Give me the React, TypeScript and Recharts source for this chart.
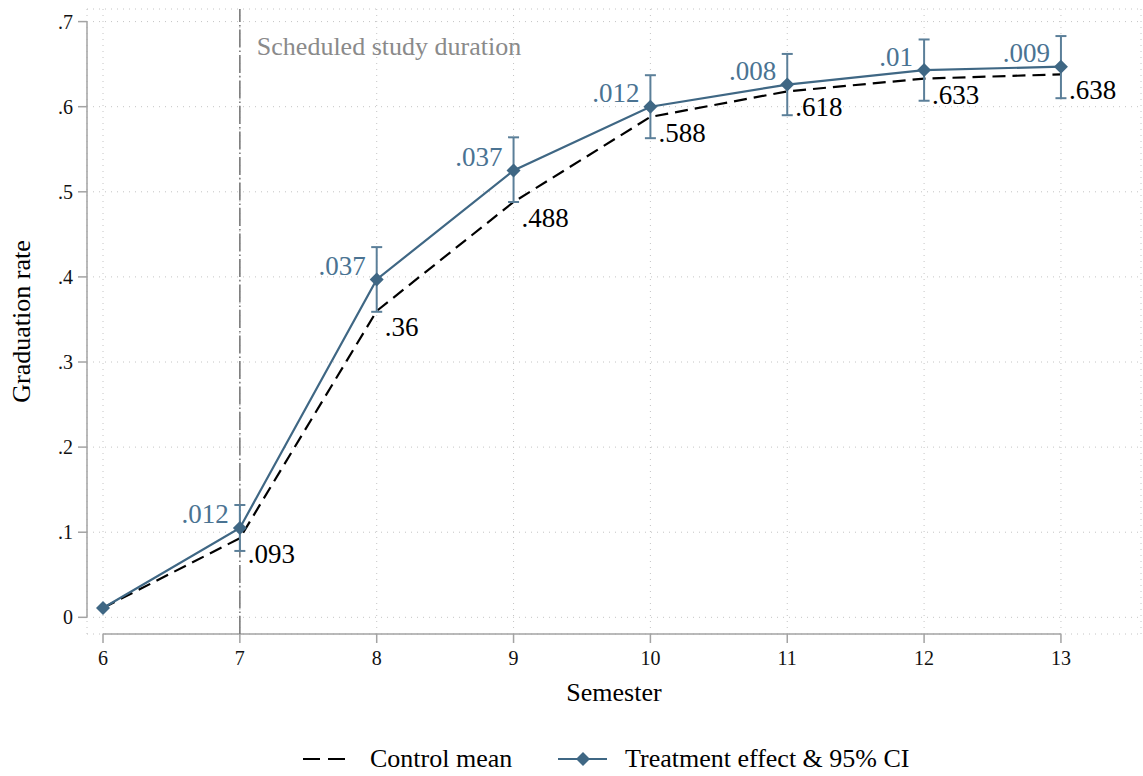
import React from 'react';
import {
  ComposedChart,
  Line,
  XAxis,
  YAxis,
  CartesianGrid,
  ReferenceLine,
  ErrorBar,
  LabelList,
  Legend,
} from 'recharts';

// ---------- data ----------
const semesters = [6, 7, 8, 9, 10, 11, 12, 13];
const controlMean = [0.011, 0.093, 0.36, 0.488, 0.588, 0.618, 0.633, 0.638];
const treatmentRate = [0.011, 0.105, 0.397, 0.525, 0.6, 0.626, 0.643, 0.647];
const ciLower = [null, 0.078, 0.359, 0.488, 0.563, 0.59, 0.607, 0.61];
const ciUpper = [null, 0.132, 0.435, 0.564, 0.637, 0.662, 0.679, 0.683];
const controlLabels = [null, '.093', '.36', '.488', '.588', '.618', '.633', '.638'];
const effectLabels = [null, '.012', '.037', '.037', '.012', '.008', '.01', '.009'];
const xTicks = [6, 7, 8, 9, 10, 11, 12, 13];
const yTicks = [0, 0.1, 0.2, 0.3, 0.4, 0.5, 0.6, 0.7];
const yTickLabels = ['0', '.1', '.2', '.3', '.4', '.5', '.6', '.7'];
const scheduledSemester = 7;

// ---------- style ----------
const FONT = '"Liberation Serif", "Times New Roman", Times, serif';
const BLUE = '#3f6784';
const CI_BLUE = '#5b7f99';
const LABEL_BLUE = '#4a7392';
const AXIS_GRAY = '#a3a3a3';
const X_DOMAIN: [number, number] = [5.883, 13.585];
const Y_DOMAIN: [number, number] = [-0.0196, 0.7148];

const data = semesters.map((s, i) => ({
  sem: s,
  control: controlMean[i],
  treatment: treatmentRate[i],
  ci:
    ciLower[i] == null || ciUpper[i] == null
      ? undefined
      : [treatmentRate[i] - (ciLower[i] as number), (ciUpper[i] as number) - treatmentRate[i]],
  controlLabel: controlLabels[i],
  effectLabel: effectLabels[i],
}));

const Diamond = (props: any) => {
  const { cx, cy } = props;
  if (cx == null || cy == null) return null;
  const r = 7;
  return (
    <polygon
      key={`d-${props.index}`}
      points={`${cx},${cy - r} ${cx + r},${cy} ${cx},${cy + r} ${cx - r},${cy}`}
      fill={BLUE}
    />
  );
};

const ControlLabel = (props: any) => {
  const { x, y, value } = props;
  if (value == null || x == null) return null;
  return (
    <text x={x + 8} y={y + 25} fontFamily={FONT} fontSize={27} fill="#000" textAnchor="start">
      {value}
    </text>
  );
};

const EffectLabel = (props: any) => {
  const { x, y, value } = props;
  if (value == null || x == null) return null;
  return (
    <text x={x - 11} y={y - 4.5} fontFamily={FONT} fontSize={27} fill={LABEL_BLUE} textAnchor="end">
      {value}
    </text>
  );
};

const LegendContent = () => (
  <div
    style={{
      position: 'relative',
      width: 1143,
      height: 38,
      fontFamily: FONT,
      fontSize: 26,
      color: '#000',
    }}
  >
    <svg style={{ position: 'absolute', left: 303, top: 0 }} width={44} height={38}>
      <line x1={0} x2={42} y1={19} y2={19} stroke="#000" strokeWidth={2.2} strokeDasharray="17 8" />
    </svg>
    <span style={{ position: 'absolute', left: 370, top: 0, lineHeight: '38px', whiteSpace: 'nowrap' }}>
      Control mean
    </span>
    <svg style={{ position: 'absolute', left: 557, top: 0 }} width={52} height={38}>
      <line x1={1} x2={50} y1={19} y2={19} stroke={BLUE} strokeWidth={2.2} />
      <polygon points="26,12 33,19 26,26 19,19" fill={BLUE} />
    </svg>
    <span style={{ position: 'absolute', left: 625, top: 0, lineHeight: '38px', whiteSpace: 'nowrap' }}>
      Treatment effect &amp; 95% CI
    </span>
  </div>
);

export default function App() {
  return (
    <div style={{ position: 'absolute', left: 0, top: 0, width: 1143, height: 776, background: '#fff' }}>
      <ComposedChart
        width={1143}
        height={776}
        data={data}
        margin={{ top: 9, right: 2, bottom: 0, left: 0 }}
      >
        <CartesianGrid stroke="#c4c4c4" strokeDasharray="1 5" strokeWidth={1} />
        <XAxis
          dataKey="sem"
          type="number"
          domain={X_DOMAIN}
          allowDataOverflow
          ticks={xTicks}
          interval={0}
          height={142}
          axisLine={false}
          tickLine={{ stroke: AXIS_GRAY, strokeWidth: 1.5 }}
          tickSize={9}
          tickMargin={8}
          tick={{ fontFamily: FONT, fontSize: 20, fill: '#111' }}
          label={(props: any) => {
            const vb = props.viewBox || {};
            return (
              <text
                x={vb.x + vb.width / 2}
                y={vb.y + 67}
                textAnchor="middle"
                fontFamily={FONT}
                fontSize={26}
                fill="#000"
              >
                Semester
              </text>
            );
          }}
        />
        <YAxis
          type="number"
          domain={Y_DOMAIN}
          allowDataOverflow
          ticks={yTicks}
          interval={0}
          width={87}
          axisLine={false}
          tickLine={{ stroke: AXIS_GRAY, strokeWidth: 1.5 }}
          tickSize={9}
          tickMargin={5}
          tick={{ fontFamily: FONT, fontSize: 20, fill: '#111' }}
          tickFormatter={(v: number) => yTickLabels[yTicks.indexOf(v)] ?? String(v)}
          label={(props: any) => {
            const vb = props.viewBox || {};
            const cx = vb.x + 30;
            const cy = vb.y + vb.height / 2;
            return (
              <text
                x={cx}
                y={cy}
                transform={`rotate(-90, ${cx}, ${cy})`}
                textAnchor="middle"
                fontFamily={FONT}
                fontSize={26}
                fill="#000"
              >
                Graduation rate
              </text>
            );
          }}
        />
        <ReferenceLine
          segment={[
            { x: xTicks[0], y: Y_DOMAIN[0] },
            { x: xTicks[xTicks.length - 1], y: Y_DOMAIN[0] },
          ]}
          stroke={AXIS_GRAY}
          strokeWidth={1.5}
          ifOverflow="visible"
        />
        <ReferenceLine
          segment={[
            { x: X_DOMAIN[0], y: yTicks[0] },
            { x: X_DOMAIN[0], y: yTicks[yTicks.length - 1] },
          ]}
          stroke={AXIS_GRAY}
          strokeWidth={1.5}
          ifOverflow="visible"
        />
        <ReferenceLine
          x={scheduledSemester}
          stroke="#7a7a7a"
          strokeWidth={1.6}
          strokeDasharray="18 3 1.5 3"
          label={(props: any) => {
            const vb = props.viewBox || {};
            return (
              <text x={vb.x + 17} y={vb.y + 46} fontFamily={FONT} fontSize={26} fill="#8a8a8a">
                Scheduled study duration
              </text>
            );
          }}
        />
        <Line
          dataKey="control"
          stroke="#000"
          strokeWidth={2.2}
          strokeDasharray="13 7"
          dot={false}
          activeDot={false}
          isAnimationActive={false}
        >
          <LabelList dataKey="controlLabel" content={ControlLabel} />
        </Line>
        <Line
          dataKey="treatment"
          stroke={BLUE}
          strokeWidth={2.2}
          dot={Diamond}
          activeDot={false}
          isAnimationActive={false}
        >
          <ErrorBar dataKey="ci" width={5.5} stroke={CI_BLUE} strokeWidth={2} direction="y" />
          <LabelList dataKey="effectLabel" content={EffectLabel} />
        </Line>
        <Legend
          layout="horizontal"
          verticalAlign="middle"
          align="center"
          wrapperStyle={{ top: 740, left: 0, width: 1143, height: 38 }}
          content={LegendContent}
        />
      </ComposedChart>
    </div>
  );
}
